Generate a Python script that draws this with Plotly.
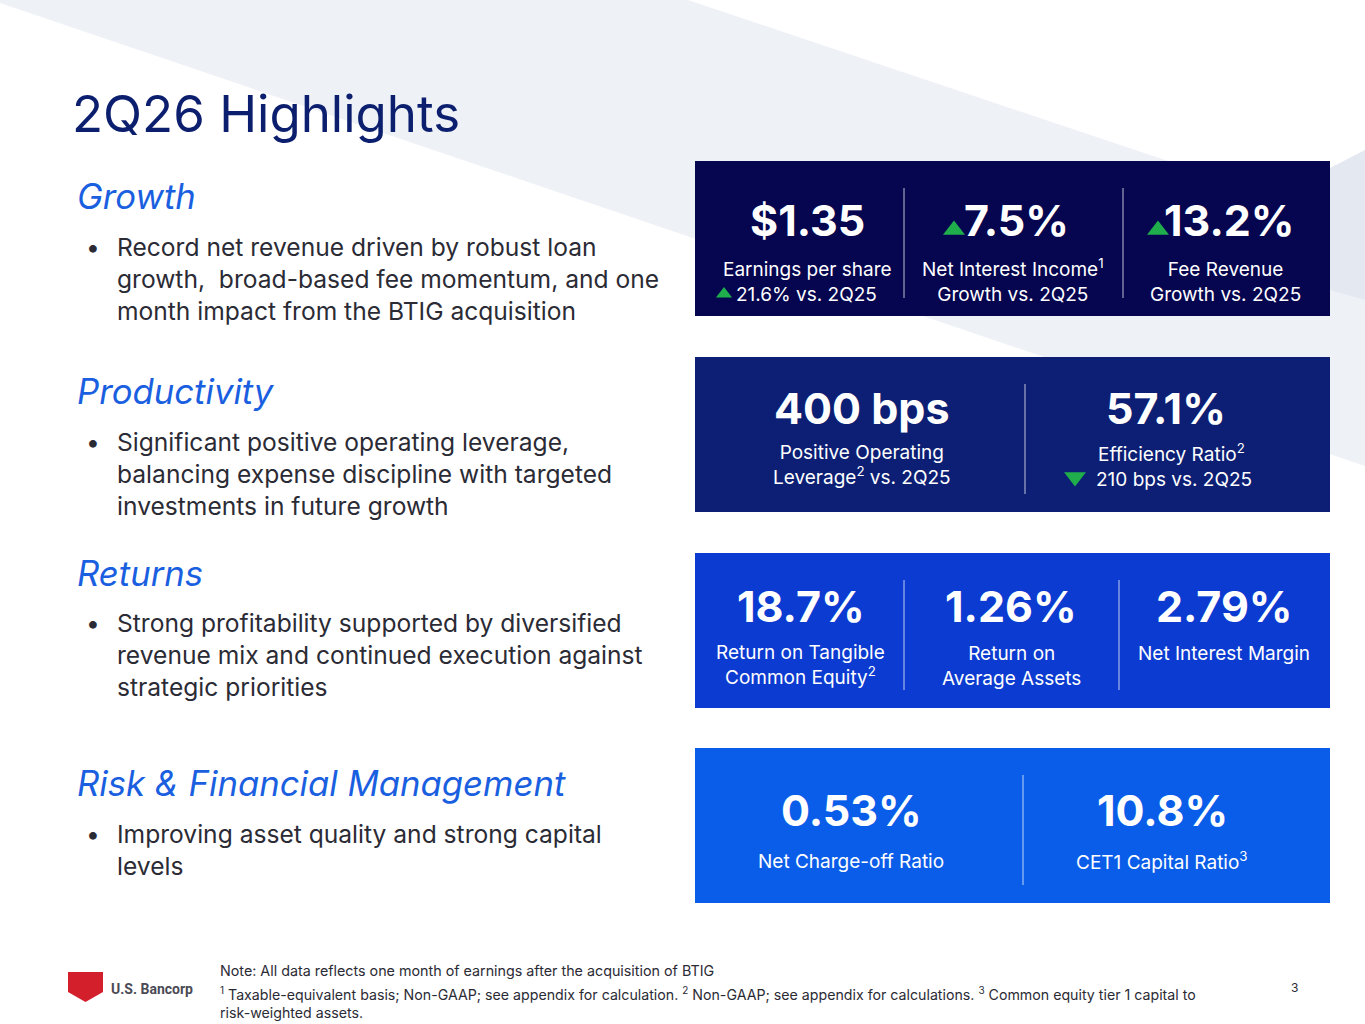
import plotly.graph_objects as go

# ---- slide content ----
title = "2Q26 Highlights"

sections = ["Growth", "Productivity", "Returns", "Risk & Financial Management"]
bullets = [
    "Record net revenue driven by robust loan<br>growth,  broad-based fee momentum, and one<br>month impact from the BTIG acquisition",
    "Significant positive operating leverage,<br>balancing expense discipline with targeted<br>investments in future growth",
    "Strong profitability supported by diversified<br>revenue mix and continued execution against<br>strategic priorities",
    "Improving asset quality and strong capital<br>levels",
]

growth_values = ["$1.35", "7.5%", "13.2%"]
growth_labels = ["Earnings per share", "Net Interest Income<sup>1</sup><br>Growth vs. 2Q25", "Fee Revenue<br>Growth vs. 2Q25"]
eps_change = "21.6% vs. 2Q25"

productivity_values = ["400 bps", "57.1%"]
productivity_labels = ["Positive Operating<br>Leverage<sup>2</sup> vs. 2Q25", "Efficiency Ratio<sup>2</sup>"]
efficiency_change = "210 bps vs. 2Q25"

returns_values = ["18.7%", "1.26%", "2.79%"]
returns_labels = ["Return on Tangible<br>Common Equity<sup>2</sup>", "Return on<br>Average Assets", "Net Interest Margin"]

risk_values = ["0.53%", "10.8%"]
risk_labels = ["Net Charge-off Ratio", "CET1 Capital Ratio<sup>3</sup>"]

note = "Note: All data reflects one month of earnings after the acquisition of BTIG"
footnotes = ("<sup>1</sup> Taxable-equivalent basis; Non-GAAP; see appendix for calculation. "
             "<sup>2</sup> Non-GAAP; see appendix for calculations. "
             "<sup>3</sup> Common equity tier 1 capital to<br>risk-weighted assets.")
company = "U.S. Bancorp"
page_no = "3"

# ---- styling ----
W, H = 1365, 1024
NAVY = "#0c1f6e"
BLUE = "#1a5fe0"
BODY = "#2b2b35"
GREEN = "#1fae4b"
FONT = "Inter"

fig = go.Figure()
shapes = []
ann = []

# background band
shapes.append(dict(type="path", path="M0,0 L688,0 L1365,227 L1365,466 L0,3 Z",
                   fillcolor="#eef1f6", line_width=0, layer="below"))
shapes.append(dict(type="path", path="M1330,168 L1365,150 L1365,300 L1330,290 Z",
                   fillcolor="#e4e8f1", line_width=0, layer="below"))

# title
ann.append(dict(x=70, y=113, text=title, xanchor="left", yanchor="middle",
                font=dict(family=FONT, size=51, color=NAVY)))

# left column: headings and bullets
head_y = [196, 391, 573, 783]
bullet_y = [230, 425, 606, 817]
for s, b, hy, by in zip(sections, bullets, head_y, bullet_y):
    ann.append(dict(x=75, y=hy, text=f"<i>{s}</i>", xanchor="left", yanchor="middle",
                    font=dict(family=FONT, size=34.7, color=BLUE)))
    ann.append(dict(x=84, y=by, text="•", xanchor="left", yanchor="top",
                    font=dict(family=FONT, size=24.6, color=BODY)))
    ann.append(dict(x=115, y=by, text=b, xanchor="left", yanchor="top", align="left",
                    font=dict(family=FONT, size=24.6, color=BODY)))

# panels
panels = [
    dict(top=161, color="#050550", values=growth_values, labels=growth_labels,
         cx=[807, 1016, 1229], lx=[807, 1013, 1225], dy=[0, -3, 0],
         dividers=[904, 1123], vy=220, ly=268),
    dict(top=357, color="#0c1f74", values=productivity_values, labels=productivity_labels,
         cx=[862, 1166], lx=[862, 1171], dy=[0, -1],
         dividers=[1025], vy=408, ly=451),
    dict(top=553, color="#0b3bd0", values=returns_values, labels=returns_labels,
         cx=[801, 1011, 1224], lx=[800, 1011, 1224], dy=[-1, 0, 0],
         dividers=[904, 1119], vy=606, ly=652),
    dict(top=748, color="#0a5de8", values=risk_values, labels=risk_labels,
         cx=[851, 1162], lx=[851, 1162], dy=[1, -1],
         dividers=[1023], vy=810, ly=859),
]
for p in panels:
    t = p["top"]
    shapes.append(dict(type="rect", x0=695, x1=1330, y0=t, y1=t + 155,
                       fillcolor=p["color"], line_width=0, layer="below"))
    for d in p["dividers"]:
        shapes.append(dict(type="line", x0=d, x1=d, y0=t + 27, y1=t + 137, layer="below",
                           line=dict(color="rgba(255,255,255,0.75)", width=1)))
    for v, x in zip(p["values"], p["cx"]):
        ann.append(dict(x=x, y=p["vy"], text=f"<b>{v}</b>", xanchor="center", yanchor="middle",
                        font=dict(family=FONT, size=43, color="white")))
    for lab, x, dy in zip(p["labels"], p["lx"], p["dy"]):
        ann.append(dict(x=x, y=p["ly"] - 12 + dy, text=lab, xanchor="center", yanchor="top",
                        font=dict(family=FONT, size=19, color="white")))

# change notes under metrics
ann.append(dict(x=806, y=294, text=eps_change, xanchor="center", yanchor="middle",
                font=dict(family=FONT, size=19, color="white")))
ann.append(dict(x=1174, y=479, text=efficiency_change, xanchor="center", yanchor="middle",
                font=dict(family=FONT, size=19, color="white")))

# arrow markers
fig.add_trace(go.Scatter(x=[954, 1158], y=[230, 230], mode="markers", hoverinfo="skip",
                         marker=dict(symbol="triangle-up", size=19, color=GREEN)))
fig.add_trace(go.Scatter(x=[724], y=[294], mode="markers", hoverinfo="skip",
                         marker=dict(symbol="triangle-up", size=14, color=GREEN)))
fig.add_trace(go.Scatter(x=[1075], y=[477], mode="markers", hoverinfo="skip",
                         marker=dict(symbol="triangle-down", size=19, color=GREEN)))

# footer
shapes.append(dict(type="path", path="M68,972 L103,972 L103,992 L85.5,1002 L68,992 Z",
                   fillcolor="#d31f2c", line_width=0))
ann.append(dict(x=109, y=989, text=f"<b>{company}</b>", xanchor="left", yanchor="middle",
                font=dict(family="Roboto", size=14, color="#4a4a55")))
ann.append(dict(x=218, y=971, text=note, xanchor="left", yanchor="middle",
                font=dict(family=FONT, size=14.3, color=BODY)))
ann.append(dict(x=218, y=982, text=footnotes, xanchor="left", yanchor="top", align="left",
                font=dict(family=FONT, size=14.2, color=BODY)))
ann.append(dict(x=1294, y=987, text=page_no, xanchor="center", yanchor="middle",
                font=dict(family=FONT, size=12, color=BODY)))

for a in ann:
    a["showarrow"] = False
    a["xref"] = "x"
    a["yref"] = "y"

fig.update_layout(
    width=W, height=H, margin=dict(l=0, r=0, t=0, b=0),
    paper_bgcolor="white", plot_bgcolor="white", showlegend=False,
    xaxis=dict(range=[0, W], visible=False, fixedrange=True),
    yaxis=dict(range=[H, 0], visible=False, fixedrange=True),
    shapes=shapes, annotations=ann,
)

fig.write_html("out.html", config={"displayModeBar": False},
               post_script="document.body.style.margin='0';")
